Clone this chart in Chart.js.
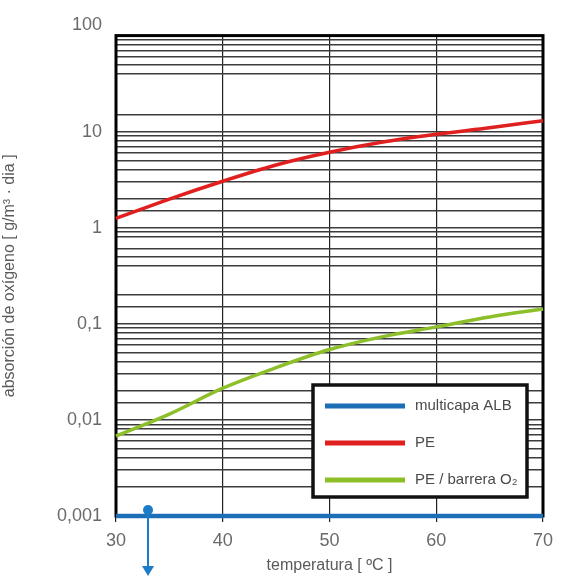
<!DOCTYPE html>
<html>
<head>
<meta charset="utf-8">
<script src="https://cdn.jsdelivr.net/npm/chart.js@4/dist/chart.umd.min.js"></script>
<style>
  html, body { margin: 0; padding: 0; background: #fff; }
  #wrap { width: 574px; height: 576px; }
</style>
</head>
<body>
<div id="wrap"><canvas id="chart" width="574" height="576"></canvas></div>
<script>
// temperatura [ºC]
const temps = [30, 35, 40, 45, 50, 55, 60, 65, 70];
// absorción de oxígeno [g/m³ · dia]
const multicapa = [0.001, 0.001, 0.001, 0.001, 0.001, 0.001, 0.001, 0.001, 0.001];
const pe = [1.25, 1.99, 3.05, 4.5, 6.1, 7.8, 9.4, 11.0, 13.0];
const peBarrera = [0.0068, 0.0115, 0.0214, 0.035, 0.054, 0.0736, 0.093, 0.118, 0.143];

const seriesNames = ['multicapa ALB', 'PE', 'PE / barrera O\u2082'];
const seriesColors = ['#1c6fb6', '#e01f1f', '#8dbf2a'];
const xTicks = [30, 40, 50, 60, 70];
const yMajor = [0.001, 0.01, 0.1, 1, 10, 100];
const yHiddenGrid = [20, 30, 0.7, 0.3];   // lines missing in the original grid
const markerTemp = 33;

const FONT = "'Liberation Sans Narrow', 'Liberation Sans', Arial, sans-serif";

const toPoints = vals => temps.map((t, i) => ({ x: t, y: vals[i] }));
const isClose = (a, b) => Math.abs(a - b) / b < 1e-6;

// frame, legend box and pointer
const extras = {
  id: 'extras',
  beforeDatasetsDraw(chart) {
    const { ctx, chartArea: a } = chart;
    ctx.save();
    ctx.strokeStyle = '#000';
    ctx.lineWidth = 3;
    ctx.strokeRect(a.left, a.top, a.right - a.left, a.bottom - a.top);
    ctx.restore();
  },
  afterDraw(chart) {
    const { ctx, chartArea: a, scales } = chart;
    ctx.save();

    // legend
    const bw = 214, bh = 112;
    const bx = a.right - 16 - bw, by = a.bottom - 19 - bh;
    ctx.fillStyle = '#fff';
    ctx.fillRect(bx, by, bw, bh);
    ctx.strokeStyle = '#111';
    ctx.lineWidth = 3.5;
    ctx.strokeRect(bx, by, bw, bh);
    ctx.font = '15px ' + FONT;
    ctx.textBaseline = 'middle';
    chart.data.datasets.forEach((ds, i) => {
      const y = by + 21 + i * 37;
      ctx.strokeStyle = ds.borderColor;
      ctx.lineWidth = 5;
      ctx.beginPath();
      ctx.moveTo(bx + 12, y);
      ctx.lineTo(bx + 92, y);
      ctx.stroke();
      ctx.fillStyle = '#4a4a4a';
      ctx.fillText(ds.label, bx + 102, y);
    });

    // pointer
    const px = scales.x.getPixelForValue(markerTemp);
    const py = a.bottom - 6;
    ctx.strokeStyle = '#1b7cc8';
    ctx.fillStyle = '#1b7cc8';
    ctx.lineWidth = 2;
    ctx.beginPath();
    ctx.moveTo(px, py);
    ctx.lineTo(px, 568);
    ctx.stroke();
    ctx.beginPath();
    ctx.arc(px, py, 5, 0, Math.PI * 2);
    ctx.fill();
    ctx.beginPath();
    ctx.moveTo(px - 6, 566);
    ctx.lineTo(px + 6, 566);
    ctx.lineTo(px, 576);
    ctx.closePath();
    ctx.fill();
    ctx.restore();
  }
};

new Chart(document.getElementById('chart'), {
  type: 'line',
  data: {
    datasets: [
      { label: seriesNames[0], data: toPoints(multicapa), borderColor: seriesColors[0], borderWidth: 4.5 },
      { label: seriesNames[1], data: toPoints(pe), borderColor: seriesColors[1], borderWidth: 3.5 },
      { label: seriesNames[2], data: toPoints(peBarrera), borderColor: seriesColors[2], borderWidth: 3.5 }
    ]
  },
  options: {
    responsive: false,
    animation: false,
    clip: false,
    elements: {
      point: { radius: 0 },
      line: { tension: 0.4, cubicInterpolationMode: 'monotone' }
    },
    layout: { padding: { top: 33, right: 31, left: 0, bottom: 0 } },
    plugins: { legend: { display: false }, tooltip: { enabled: false } },
    scales: {
      x: {
        type: 'linear',
        min: 30,
        max: 70,
        afterFit(scale) { scale.height = 60; },
        afterBuildTicks(scale) { scale.ticks = xTicks.map(v => ({ value: v })); },
        grid: { color: '#222', lineWidth: 1.2, tickLength: 6, drawTicks: true },
        border: { display: false },
        ticks: { color: '#6a6a6a', font: { family: FONT, size: 18 }, padding: 8 },
        title: {
          display: true,
          text: 'temperatura [ \u00baC ]',
          color: '#5a5a5a',
          font: { family: FONT, size: 16 },
          padding: { top: 0, bottom: 1 }
        }
      },
      y: {
        type: 'logarithmic',
        min: 0.001,
        max: 100,
        afterFit(scale) { scale.width = 116; },
        grid: {
          drawTicks: false,
          lineWidth: 1.5,
          color: c => (c.tick && yHiddenGrid.some(v => isClose(c.tick.value, v))) ? 'rgba(0,0,0,0)' : '#3c3c3c'
        },
        border: { display: false },
        ticks: {
          autoSkip: false,
          padding: 14,
          color: '#6a6a6a',
          font: { family: FONT, size: 18 },
          callback(value) {
            const m = yMajor.find(v => isClose(value, v));
            if (m === undefined) return '';
            const s = String(m).replace('.', ',');
            return m === 100 ? [s, ''] : s;
          }
        },
        title: {
          display: true,
          text: 'absorci\u00f3n de ox\u00edgeno [ g/m\u00b3 \u00b7 dia ]',
          color: '#5a5a5a',
          font: { family: FONT, size: 16 },
          padding: { top: 0, bottom: 13 }
        }
      }
    }
  },
  plugins: [extras]
});
</script>
</body>
</html>
